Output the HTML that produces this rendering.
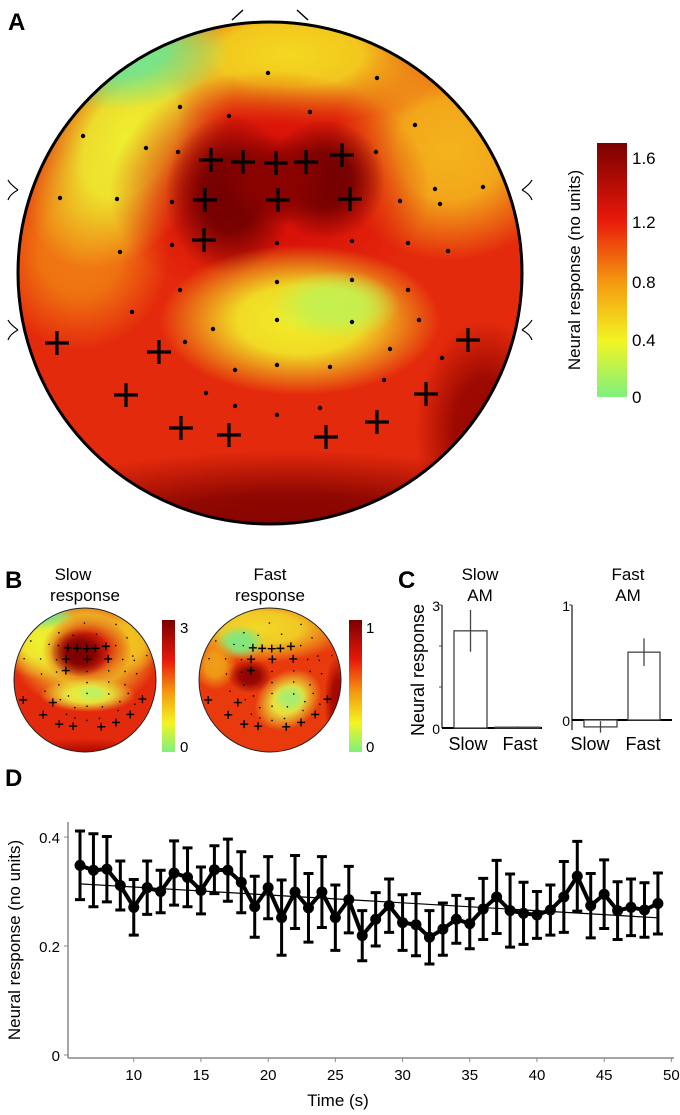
<!DOCTYPE html>
<html><head><meta charset="utf-8">
<style>
body{margin:0;background:#fff;}
svg{display:block;font-family:"Liberation Sans",Arial,sans-serif;}
</style></head>
<body>
<svg id="fig" width="680" height="1115" viewBox="0 0 680 1115">
<defs id="defs">
  <clipPath id="clipA"><ellipse cx="270" cy="273" rx="252" ry="251"/></clipPath>
  <clipPath id="clipB1"><ellipse cx="85" cy="680" rx="71" ry="72"/></clipPath>
  <clipPath id="clipB2"><ellipse cx="270" cy="680" rx="71" ry="72"/></clipPath>
  <linearGradient id="cbar" x1="0" y1="1" x2="0" y2="0">
    <stop offset="0" stop-color="#7ff07f"/><stop offset="0.22" stop-color="#f2f522"/>
    <stop offset="0.45" stop-color="#f59a10"/><stop offset="0.7" stop-color="#e8180a"/>
    <stop offset="1" stop-color="#7a0000"/>
  </linearGradient>
</defs>

<!-- Panel A -->
<text x="8" y="30" font-size="24" font-weight="bold">A</text>
<g>
  <g clip-path="url(#clipA)">
    <rect x="0" y="0" width="540" height="540" fill="#e42a0c"/>
    <g id="blobsA"></g>
  </g>
  <ellipse cx="270" cy="273" rx="252" ry="251" fill="none" stroke="#000" stroke-width="3"/>
  <path d="M232 20 L243 10 M308 20 L297 10" stroke="#000" stroke-width="1.5" fill="none"/>
  <path d="M18 200 q-8 -6 -10 -10 M18 200 q-8 4 -10 10 M18 340 q-8 -6 -10 -10 M18 340 q-8 4 -10 10" stroke="#000" stroke-width="1.2" fill="none" transform="translate(0,-10)"/>
  <path d="M522 200 q8 -6 10 -10 M522 200 q8 4 10 10 M522 340 q8 -6 10 -10 M522 340 q8 4 10 10" stroke="#000" stroke-width="1.2" fill="none" transform="translate(0,-10)"/>
  <g id="mainMarks"></g>
</g>
<g>
  <rect x="597" y="143" width="30" height="254" fill="url(#cbar)"/>
  <g font-size="17" fill="#000">
    <text x="632" y="164">1.6</text><text x="632" y="228">1.2</text><text x="632" y="288">0.8</text><text x="632" y="346">0.4</text><text x="632" y="403">0</text>
  </g>
  <text transform="translate(580,270) rotate(-90)" text-anchor="middle" font-size="17">Neural response (no units)</text>
</g>

<!-- Panel B -->
<text x="5" y="588" font-size="24" font-weight="bold">B</text>
<text x="73" y="580" font-size="17" text-anchor="middle">Slow</text>
<text x="85" y="601" font-size="17" text-anchor="middle">response</text>
<text x="270" y="580" font-size="17" text-anchor="middle">Fast</text>
<text x="270" y="601" font-size="17" text-anchor="middle">response</text>
<g>
  <g clip-path="url(#clipB1)">
    <rect x="0" y="600" width="170" height="160" fill="#e42a0c"/>
    <g id="blobsB1"></g>
  </g>
  <ellipse cx="85" cy="680" rx="71" ry="72" fill="none" stroke="#222" stroke-width="1"/>
  <g id="b1Marks"></g>
</g>
<g>
  <g clip-path="url(#clipB2)">
    <rect x="190" y="600" width="170" height="160" fill="#e83a0c"/>
    <g id="blobsB2"></g>
  </g>
  <ellipse cx="270" cy="680" rx="71" ry="72" fill="none" stroke="#222" stroke-width="1"/>
  <g id="b2Marks"></g>
</g>
<g>
  <rect x="162" y="620" width="13" height="132" fill="url(#cbar)"/>
  <text x="180" y="633" font-size="15">3</text><text x="180" y="752" font-size="15">0</text>
</g>
<g>
  <rect x="349" y="620" width="13" height="132" fill="url(#cbar)"/>
  <text x="366" y="633" font-size="15">1</text><text x="366" y="752" font-size="15">0</text>
</g>

<!-- Panel C -->
<text x="398" y="588" font-size="24" font-weight="bold">C</text>
<text x="480" y="580" font-size="17" text-anchor="middle">Slow</text>
<text x="480" y="601" font-size="17" text-anchor="middle">AM</text>
<text x="628" y="580" font-size="17" text-anchor="middle">Fast</text>
<text x="628" y="601" font-size="17" text-anchor="middle">AM</text>
<text transform="translate(424,670) rotate(-90)" text-anchor="middle" font-size="18">Neural response</text>
<g id="panelC"></g>

<!-- Panel D -->
<text x="5" y="786" font-size="24" font-weight="bold">D</text>
<text transform="translate(20,940) rotate(-90)" text-anchor="middle" font-size="17">Neural response (no units)</text>
<text x="338" y="1106" font-size="17" text-anchor="middle">Time (s)</text>
<g id="panelD"></g>
</svg>

<script>
// ---- Panel D data ----
const times = [6,7,8,9,10,11,12,13,14,15,16,17,18,19,20,21,22,23,24,25,26,27,28,29,30,31,32,33,34,35,36,37,38,39,40,41,42,43,44,45,46,47,48,49];
const means = [0.348,0.339,0.341,0.311,0.271,0.307,0.300,0.334,0.326,0.302,0.340,0.339,0.317,0.272,0.307,0.252,0.299,0.270,0.299,0.252,0.285,0.219,
               0.249,0.274,0.243,0.239,0.216,0.231,0.249,0.241,0.268,0.290,0.265,0.260,0.257,0.266,0.290,0.328,0.274,0.295,0.265,0.271,0.266,0.278];
const errs = [0.063,0.067,0.060,0.045,0.051,0.049,0.039,0.059,0.054,0.043,0.044,0.057,0.056,0.056,0.057,0.069,0.067,0.063,0.065,0.060,0.061,0.046,
              0.049,0.049,0.051,0.057,0.049,0.048,0.044,0.046,0.056,0.067,0.067,0.057,0.043,0.046,0.065,0.064,0.059,0.063,0.053,0.052,0.050,0.056];
const xTicks = [10,15,20,25,30,35,40,45,50];
const yTicks = [0,0.2,0.4];
const yTickLabels = ["0","0.2","0.4"];

// ---- Panel C data ----
const cCategories = ["Slow","Fast"];
const slowAMValues = [2.37,0.02];
const slowAMErrors = [0.51,0.02];
const fastAMValues = [-0.06,0.59];
const fastAMErrors = [0.05,0.12];

const NS="http://www.w3.org/2000/svg";
function mk(tag,attrs,parent){const e=document.createElementNS(NS,tag);for(const k in attrs)e.setAttribute(k,attrs[k]);parent.appendChild(e);return e;}

// Soft blobs for topographic maps (radial gradients, no filters)
(function(){
  const defs=document.getElementById('defs');
  let gid=0;
  function blob(parent,cx,cy,rx,ry,color,rot){
    const id='rg'+(gid++);
    const rg=mk('radialGradient',{id:id},defs);
    mk('stop',{offset:0,'stop-color':color,'stop-opacity':1},rg);
    mk('stop',{offset:0.45,'stop-color':color,'stop-opacity':0.9},rg);
    mk('stop',{offset:1,'stop-color':color,'stop-opacity':0},rg);
    const a={cx:cx,cy:cy,rx:rx,ry:ry,fill:'url(#'+id+')'};
    if(rot)a.transform=`rotate(${rot} ${cx} ${cy})`;
    mk('ellipse',a,parent);
  }
  const A=document.getElementById('blobsA');
  [[80,250,90,100,'#f07a12'],[450,150,120,110,'#f4b41c'],[290,55,160,70,'#f4d820'],
   [130,140,90,140,'#eef030',30],[110,50,120,60,'#70e890'],
   [270,190,160,120,'#d81008'],[230,195,65,80,'#700000'],[325,180,60,60,'#700000'],[275,180,60,45,'#8a0200'],
   [300,320,140,75,'#f2ee28'],[335,305,65,35,'#c4f050'],
   [290,530,320,80,'#860400'],[485,430,70,110,'#960600']].forEach(b=>blob(A,...b));
  const B1=document.getElementById('blobsB1');
  [[85,650,75,60,'#f2ee30'],[40,640,40,40,'#eef030'],[132,640,28,35,'#f0c020'],[40,612,35,18,'#70e890'],
   [87,650,45,36,'#d81008'],[80,653,30,24,'#7a0000'],[88,695,48,17,'#e8f040'],[92,693,16,9,'#c0f060'],[85,760,95,22,'#b00800']].forEach(b=>blob(B1,...b));
  const B2=document.getElementById('blobsB2');
  [[260,628,90,35,'#f2d828'],[240,642,25,17,'#80e880'],[215,665,22,25,'#f0a018'],[250,676,22,17,'#900200'],
   [288,700,36,28,'#e8f040',-35],[290,698,17,14,'#a8ec70'],[338,700,14,45,'#a00600']].forEach(b=>blob(B2,...b));
})();

// Panel D
(function(){
  const g=document.getElementById('panelD');
  const X=t=>80+(t-6)*13.44, Y=v=>1055-v*545;
  mk('line',{x1:68,y1:822,x2:68,y2:1058,stroke:'#888','stroke-width':1.5},g);
  mk('line',{x1:68,y1:1058,x2:674,y2:1058,stroke:'#888','stroke-width':1.5},g);
  xTicks.forEach(t=>{
    mk('line',{x1:X(t),y1:1058,x2:X(t),y2:1062,stroke:'#888'},g);
    const tx=mk('text',{x:X(t),y:1080,'font-size':15,'text-anchor':'middle'},g);tx.textContent=t;
    
    
  });
  yTicks.forEach((v,i)=>{
    mk('line',{x1:64,y1:Y(v),x2:68,y2:Y(v),stroke:'#888'},g);
    const tx=mk('text',{x:60,y:Y(v)+6,'font-size':15,'text-anchor':'end'},g);tx.textContent=yTickLabels[i];
    
    
  });
  const n=times.length;let sx=0,sy=0,sxx=0,sxy=0;
  for(let i=0;i<n;i++){sx+=times[i];sy+=means[i];sxx+=times[i]*times[i];sxy+=times[i]*means[i];}
  const b=(n*sxy-sx*sy)/(n*sxx-sx*sx), a=(sy-b*sx)/n;
  const t0=times[0],t1=times[n-1];
  const fit=mk('line',{x1:X(t0),y1:Y(a+b*t0),x2:X(t1),y2:Y(a+b*t1),stroke:'#000','stroke-width':1.2},g);
  
  
  times.forEach((t,i)=>{
    const x=X(t),yt=Y(means[i]+errs[i]),yb=Y(means[i]-errs[i]);
    const eb=mk('path',{d:`M${x},${yt}V${yb}M${x-5},${yt}H${x+5}M${x-5},${yb}H${x+5}`,stroke:'#000','stroke-width':3,fill:'none'},g);
    
    
  });
  const pl=mk('polyline',{points:times.map((t,i)=>X(t)+','+Y(means[i])).join(' '),fill:'none',stroke:'#000','stroke-width':4,'stroke-linejoin':'round'},g);
  
  
  times.forEach((t,i)=>{
    const c=mk('circle',{cx:X(t),cy:Y(means[i]),r:5.5,fill:'#000'},g);
    
    
  });
})();

// Panel C
(function(){
  const g=document.getElementById('panelC');
  function bars(ax, y0, yTop, vmax, tickTop, vals, es, barXs, minor, labXs){
    const Y=v=>y0-(v/vmax)*(y0-yTop);
    const neg=vals.some(v=>v<0);
    mk('line',{x1:ax,y1:yTop,x2:ax,y2:Y(0)+(neg?10:0),stroke:'#444','stroke-width':1.5},g);
    mk('line',{x1:ax-3,y1:yTop,x2:ax,y2:yTop,stroke:'#444'},g);
    minor.forEach(m=>mk('line',{x1:ax-3,y1:Y(m),x2:ax,y2:Y(m),stroke:'#444'},g));
    mk('line',{x1:ax,y1:Y(0),x2:ax+100,y2:Y(0),stroke:'#000','stroke-width':2},g);
    let t=mk('text',{x:ax-2,y:yTop+6,'font-size':14,'text-anchor':'end'},g);t.textContent=tickTop;
    t=mk('text',{x:ax-2,y:Y(0)+6,'font-size':14,'text-anchor':'end'},g);t.textContent='0';
    vals.forEach((v,i)=>{
      const [x0,x1]=barXs[i];const ya=Y(Math.max(v,0)),yb=Y(Math.min(v,0));
      const r=mk('rect',{x:x0,y:ya,width:x1-x0,height:Math.max(yb-ya,0.5),fill:'#fff',stroke:'#444','stroke-width':1.3},g);
      
      
      const cx=(x0+x1)/2;
      mk('line',{x1:cx,y1:Y(v+es[i]),x2:cx,y2:Y(v-es[i]),stroke:'#444','stroke-width':1.3},g);
      const lb=mk('text',{x:labXs[i],y:750,'font-size':18,'text-anchor':'middle'},g);
      lb.textContent=cCategories[i];
      
      
    });
  }
  bars(442,728,605,3,'3',slowAMValues,slowAMErrors,[[454,487],[495,540]],[1,2],[468,520]);
  bars(572,720,605,1,'1',fastAMValues,fastAMErrors,[[584,617],[628,660]],[],[590,643]);
})();

// Topomap markers
const plusA=[[211,160],[243,162],[276,163],[306,162],[342,155],[205,200],[278,200],[350,199],[204,240],[57,343],[159,352],[126,395],[181,428],[229,435],[326,437],[377,422],[426,394],[468,340]];
const dotsA=[[268,73],[377,78],[180,107],[310,112],[415,125],[83,136],[146,148],[178,152],[229,116],[376,152],[435,189],[483,187],[60,198],[117,199],[172,202],[400,201],[440,204],[120,252],[172,245],[277,243],[352,241],[408,243],[448,251],[180,290],[277,282],[352,280],[408,290],[132,312],[213,329],[277,320],[352,322],[419,320],[185,342],[442,358],[235,370],[277,365],[330,367],[390,349],[206,393],[235,406],[277,415],[320,408],[384,380]];
(function(){
  const g=document.getElementById('mainMarks');
  dotsA.forEach(p=>mk('circle',{cx:p[0],cy:p[1],r:2.2,fill:'#000'},g));
  plusA.forEach(p=>mk('path',{d:`M${p[0]-12},${p[1]}H${p[0]+12}M${p[0]},${p[1]-12}V${p[1]+12}`,stroke:'#000','stroke-width':3.2},g));
  function small(id,cx,cy,plus){
    const gg=document.getElementById(id);
    const f=p=>[cx+(p[0]-270)*0.29,cy+(p[1]-273)*0.285];
    dotsA.forEach(p=>{const q=f(p);mk('circle',{cx:q[0],cy:q[1],r:0.8,fill:'#000'},gg);});
    plus.forEach(p=>{const q=f(p);mk('path',{d:`M${q[0]-4},${q[1]}H${q[0]+4}M${q[0]},${q[1]-4}V${q[1]+4}`,stroke:'#000','stroke-width':1.4},gg);});
  }
  small('b1Marks',85,680,plusA);
  small('b2Marks',270,680,plusA);
})();
</script>
</body></html>
